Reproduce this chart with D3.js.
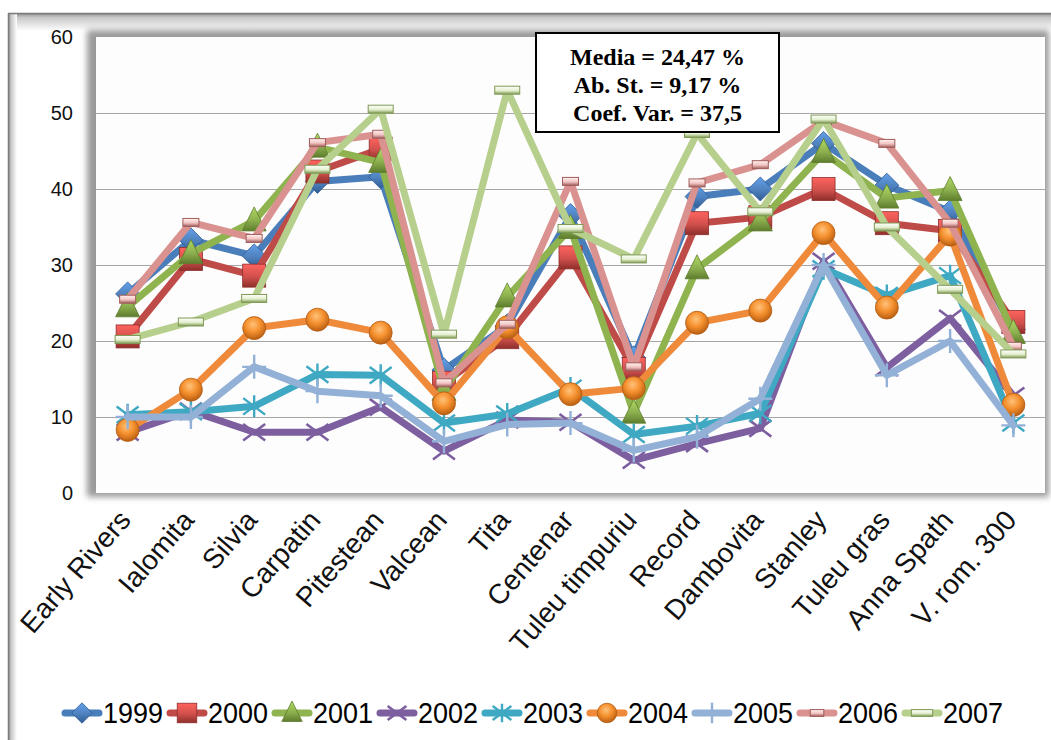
<!DOCTYPE html>
<html>
<head>
<meta charset="utf-8">
<script src="https://cdn.jsdelivr.net/npm/d3@7"></script>
<style>
  html, body { margin: 0; padding: 0; background: #ffffff; }
  svg { display: block; }
</style>
</head>
<body>
<svg id="chart" width="1051" height="740"></svg>
<script>
// Cultivars on the category axis
const categories = ["Early Rivers", "Ialomita", "Silvia", "Carpatin", "Pitestean", "Valcean", "Tita",
  "Centenar", "Tuleu timpuriu", "Record", "Dambovita", "Stanley", "Tuleu gras", "Anna Spath", "V. rom. 300"];

// Yearly values (%) per cultivar
const years = ["1999", "2000", "2001", "2002", "2003", "2004", "2005", "2006", "2007"];
const v1999 = [26.2, 33.3, 31.2, 41.0, 41.6, 16.2, 22.0, 36.5, 17.8, 39.0, 40.0, 46.0, 40.5, 37.0, 21.5];
const v2000 = [20.6, 30.8, 28.6, 42.3, 45.3, 14.5, 20.5, 31.0, 16.3, 35.5, 36.3, 40.0, 35.5, 34.5, 22.5];
const v2001 = [24.5, 31.5, 35.8, 45.5, 43.5, 13.5, 25.8, 34.8, 10.5, 29.5, 35.8, 44.8, 38.8, 39.8, 21.0];
const v2002 = [8.0, 10.8, 8.0, 8.0, 11.3, 5.5, 9.6, 9.3, 4.3, 6.5, 8.5, 30.5, 16.5, 23.0, 12.8];
const v2003 = [10.3, 10.7, 11.4, 15.6, 15.5, 9.2, 10.4, 13.8, 7.7, 8.8, 10.5, 29.5, 26.0, 28.6, 9.2];
const v2004 = [8.3, 13.6, 21.7, 22.8, 21.1, 11.8, 21.8, 13.0, 13.8, 22.4, 24.0, 34.2, 24.4, 34.0, 11.6];
const v2005 = [10.0, 10.0, 16.6, 13.4, 12.8, 6.8, 9.0, 9.2, 5.6, 7.4, 12.4, 30.0, 15.5, 20.0, 8.9];
const v2006 = [25.5, 35.6, 33.5, 46.1, 47.2, 14.5, 22.2, 41.0, 16.6, 40.8, 43.2, 49.0, 46.0, 35.5, 19.3];
const v2007 = [20.2, 22.5, 25.6, 42.6, 50.5, 20.9, 53.0, 34.8, 30.8, 47.3, 37.0, 49.2, 35.0, 26.8, 18.3];

const yTicks = [0, 10, 20, 30, 40, 50, 60];
const statLines = ["Media = 24,47 %", "Ab. St. = 9,17 %", "Coef. Var. = 37,5"];

const seriesValues = [v1999, v2000, v2001, v2002, v2003, v2004, v2005, v2006, v2007];

// Per-series look: line colour, marker kind, marker fill / edge
const styles = [
  { line: "#4A7EBB", marker: "diamond", fill: "#4F81BD", dark: "#2F5C94" },
  { line: "#BE4B48", marker: "square", fill: "#D0504C", dark: "#8E2E2B" },
  { line: "#8FB34E", marker: "triangle", fill: "#8DB04F", dark: "#5E7D2E" },
  { line: "#7D5FA0", marker: "x", fill: "#7D5FA0", dark: "#5C437C" },
  { line: "#3FA8C2", marker: "star", fill: "#3FA8C2", dark: "#2B8299" },
  { line: "#EE8A3A", marker: "circle", fill: "#F79646", dark: "#B8621E" },
  { line: "#93B1D6", marker: "plus", fill: "#93B1D6", dark: "#6F8FB8" },
  { line: "#D9928F", marker: "smallbar", fill: "#F2C4C2", dark: "#A05D5B" },
  { line: "#B7CF8D", marker: "bar", fill: "#E4EFCF", dark: "#7F9A55" }
];

const W = 1051, H = 740;
const plot = { left: 96, right: 1045, top: 37, bottom: 493 };

const svg = d3.select("#chart");
const defs = svg.append("defs");

// soft shadow used by the frames
const blur = defs.append("filter").attr("id", "soft").attr("x", "-10%").attr("y", "-10%")
  .attr("width", "120%").attr("height", "120%");
blur.append("feGaussianBlur").attr("stdDeviation", 3);

function vGrad(id, stops, horizontal) {
  const g = defs.append("linearGradient").attr("id", id)
    .attr("x1", 0).attr("y1", 0)
    .attr("x2", horizontal ? 1 : 0).attr("y2", horizontal ? 0 : 1);
  stops.forEach(([o, c]) => g.append("stop").attr("offset", o).attr("stop-color", c));
}
vGrad("frameTop", [[0, "#8a8a8a"], [0.25, "#c8c8c8"], [1, "#ffffff"]]);
vGrad("frameLeft", [[0, "#8a8a8a"], [0.35, "#c8c8c8"], [1, "#ffffff"]], true);

// marker gradients for the shaded look
styles.forEach((s, i) => {
  vGrad("mk" + i, [[0, d3.color(s.fill).brighter(0.6)], [0.55, s.fill], [1, s.dark]]);
});
const rg = defs.append("radialGradient").attr("id", "ball").attr("cx", "45%").attr("cy", "35%").attr("r", "65%");
rg.append("stop").attr("offset", 0).attr("stop-color", "#FFC27A");
rg.append("stop").attr("offset", 0.5).attr("stop-color", "#F5902E");
rg.append("stop").attr("offset", 1).attr("stop-color", "#B85E12");

// outer chart frame
svg.append("rect").attr("x", 8).attr("y", 13).attr("width", W).attr("height", H)
  .attr("fill", "#ffffff");
svg.append("rect").attr("x", 8).attr("y", 13).attr("width", W).attr("height", 18)
  .attr("fill", "url(#frameTop)");
svg.append("rect").attr("x", 8).attr("y", 13).attr("width", 9).attr("height", H)
  .attr("fill", "url(#frameLeft)");
svg.append("line").attr("x1", 8).attr("x2", W).attr("y1", 13.5).attr("y2", 13.5)
  .attr("stroke", "#7a7a7a").attr("stroke-width", 1.5);
svg.append("line").attr("x1", 8.5).attr("x2", 8.5).attr("y1", 13).attr("y2", H)
  .attr("stroke", "#7a7a7a").attr("stroke-width", 1.5);

// plot area with its shadow
svg.append("rect").attr("x", plot.left - 9).attr("y", plot.top - 7)
  .attr("width", plot.right - plot.left + 13).attr("height", plot.bottom - plot.top + 11)
  .attr("fill", "#9a9a9a").attr("filter", "url(#soft)");
svg.append("rect").attr("x", plot.left).attr("y", plot.top)
  .attr("width", plot.right - plot.left).attr("height", plot.bottom - plot.top)
  .attr("fill", "#fdfdfd");

const x = d3.scalePoint().domain(categories).range([plot.left, plot.right]).padding(0.5);
const y = d3.scaleLinear().domain([0, 60]).range([plot.bottom, plot.top]);

// gridlines
svg.append("g").selectAll("line").data(yTicks.filter(t => t > 0 && t < 60)).join("line")
  .attr("x1", plot.left).attr("x2", plot.right)
  .attr("y1", d => Math.round(y(d)) + 0.5).attr("y2", d => Math.round(y(d)) + 0.5)
  .attr("stroke", "#a6a6a6").attr("stroke-width", 1);

// value axis
const yAxis = svg.append("g").attr("transform", `translate(${plot.left},0)`)
  .call(d3.axisLeft(y).tickValues(yTicks).tickSize(0).tickPadding(23).tickFormat(d3.format("d")));
yAxis.select(".domain").remove();
yAxis.selectAll("text").attr("font-family", "Liberation Sans, Arial, sans-serif")
  .attr("font-size", 20).attr("fill", "#111");

// category axis, slanted labels
const xAxis = svg.append("g").attr("transform", `translate(0,${plot.bottom})`)
  .call(d3.axisBottom(x).tickSize(0).tickPadding(0));
xAxis.select(".domain").remove();
xAxis.selectAll("text")
  .attr("font-family", "Liberation Sans, Arial, sans-serif").attr("font-size", 28).attr("fill", "#111")
  .attr("text-anchor", "end").attr("dy", null).attr("y", 0)
  .attr("transform", "translate(4,28) rotate(-49)");

function drawMarker(g, kind, i, scale) {
  const s = styles[i];
  const k = scale || 1;
  const fill = `url(#mk${i})`;
  if (kind === "diamond") {
    g.append("path").attr("d", `M0,${-12 * k}L${12 * k},0L0,${12 * k}L${-12 * k},0Z`)
      .attr("fill", fill).attr("stroke", s.dark).attr("stroke-width", 0.8);
  } else if (kind === "square") {
    g.append("rect").attr("x", -11.5 * k).attr("y", -11.5 * k).attr("width", 23 * k).attr("height", 23 * k)
      .attr("fill", fill).attr("stroke", s.dark).attr("stroke-width", 0.8);
  } else if (kind === "triangle") {
    g.append("path").attr("d", `M0,${-14 * k}L${12 * k},${10 * k}L${-12 * k},${10 * k}Z`)
      .attr("fill", fill).attr("stroke", s.dark).attr("stroke-width", 0.8);
  } else if (kind === "x") {
    const r = 11 * k;
    g.append("path").attr("d", `M${-r},${-r * 0.75}L${r},${r * 0.75}M${-r},${r * 0.75}L${r},${-r * 0.75}`)
      .attr("stroke", s.fill).attr("stroke-width", 2.6).attr("fill", "none");
  } else if (kind === "star") {
    const r = 11 * k;
    g.append("path").attr("d", `M${-r},${-r * 0.75}L${r},${r * 0.75}M${-r},${r * 0.75}L${r},${-r * 0.75}M0,${-r}L0,${r}`)
      .attr("stroke", s.fill).attr("stroke-width", 2.4).attr("fill", "none");
  } else if (kind === "plus") {
    const r = 12 * k;
    g.append("path").attr("d", `M${-r},0L${r},0M0,${-r}L0,${r}`)
      .attr("stroke", s.fill).attr("stroke-width", 2.4).attr("fill", "none");
  } else if (kind === "circle") {
    g.append("circle").attr("r", 11.5 * k).attr("fill", "url(#ball)")
      .attr("stroke", "#B35C14").attr("stroke-width", 0.8);
  } else if (kind === "smallbar") {
    g.append("rect").attr("x", -8 * k).attr("y", -4 * k).attr("width", 16 * k).attr("height", 8 * k)
      .attr("fill", fill).attr("stroke", s.dark).attr("stroke-width", 1);
  } else if (kind === "bar") {
    g.append("rect").attr("x", -12.5 * k).attr("y", -4 * k).attr("width", 25 * k).attr("height", 8 * k)
      .attr("fill", fill).attr("stroke", s.dark).attr("stroke-width", 1);
  }
}

// series lines and markers, later years on top
const line = d3.line().x((d, j) => x(categories[j])).y(d => y(d)).curve(d3.curveLinear);
seriesValues.forEach((vals, i) => {
  const g = svg.append("g").attr("class", "series-" + years[i]);
  g.append("path").datum(vals).attr("d", line)
    .attr("fill", "none").attr("stroke", styles[i].line).attr("stroke-width", 7)
    .attr("stroke-linejoin", "round").attr("stroke-linecap", "round");
  vals.forEach((v, j) => {
    const m = g.append("g").attr("transform", `translate(${x(categories[j])},${y(v)})`);
    drawMarker(m, styles[i].marker, i);
  });
});

// statistics box
const box = svg.append("g");
box.append("rect").attr("x", 536).attr("y", 33).attr("width", 243).attr("height", 99)
  .attr("fill", "#ffffff").attr("stroke", "#000").attr("stroke-width", 2);
box.selectAll("text").data(statLines).join("text")
  .attr("x", 657.5).attr("y", (d, i) => 65 + i * 28)
  .attr("text-anchor", "middle")
  .attr("font-family", "Liberation Serif, Times New Roman, serif")
  .attr("font-weight", "bold").attr("font-size", 24).attr("fill", "#000")
  .text(d => d);

// legend
const legend = svg.append("g");
years.forEach((yr, i) => {
  const x0 = 62 + i * 105;
  const g = legend.append("g").attr("transform", `translate(${x0},713)`);
  g.append("line").attr("x1", 3).attr("x2", 37).attr("y1", 0).attr("y2", 0)
    .attr("stroke", styles[i].line).attr("stroke-width", 7).attr("stroke-linecap", "round");
  const m = g.append("g").attr("transform", "translate(20,0)");
  drawMarker(m, styles[i].marker, i, 0.85);
  g.append("text").attr("x", 41).attr("y", 10).text(yr)
    .attr("font-family", "Liberation Sans, Arial, sans-serif").attr("font-size", 29)
    .attr("textLength", 60).attr("lengthAdjust", "spacingAndGlyphs").attr("fill", "#000");
});
</script>
</body>
</html>
